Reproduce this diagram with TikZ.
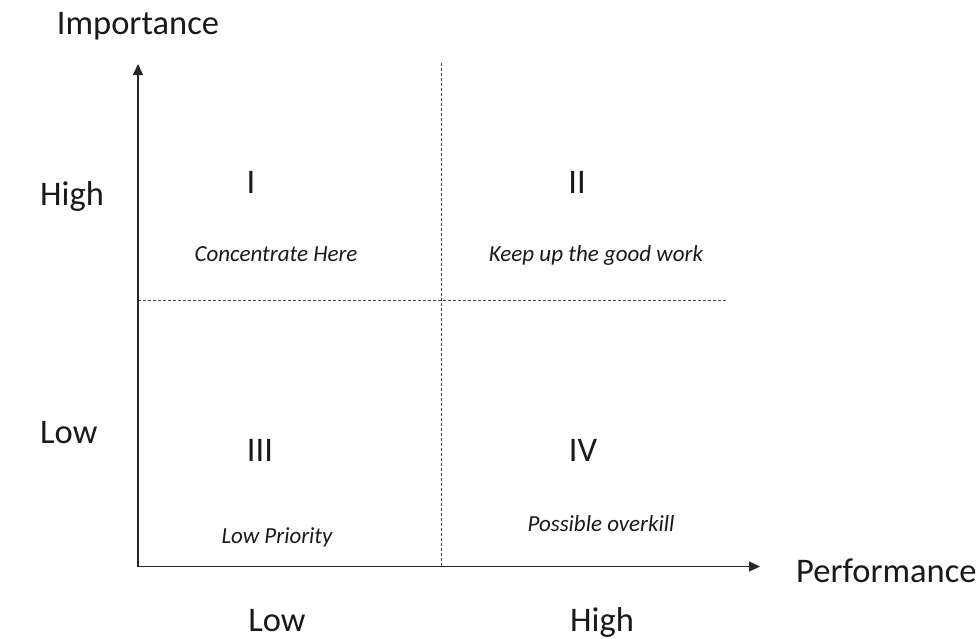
\documentclass[tikz,border=0pt]{standalone}
\usepackage{fontspec}
\setmainfont{Carlito}
\usetikzlibrary{arrows.meta}
\begin{document}
\begin{tikzpicture}[x=1pt,y=-1pt,
  big/.style={font=\fontsize{34.5}{40}\selectfont, text=black!90, inner sep=0pt, anchor=base},
  note/.style={font=\fontsize{23}{27}\selectfont\itshape, text=black!90, inner sep=0pt, anchor=base},
  axis/.style={line width=1.2pt, draw=black!85, -{Triangle[length=11pt,width=10pt]}},
  divider/.style={line width=0.8pt, draw=black!70, dash pattern=on 3pt off 2pt}]
\useasboundingbox (0,0) rectangle (978,639);

% axes frame
\coordinate (O) at (138,566.5);
\coordinate (ytip) at (138,64);
\coordinate (xtip) at (760,566.5);
\coordinate (vtop) at (441,63);
\coordinate (vbot) at (441,566);
\coordinate (hl) at (138,300);
\coordinate (hr) at (727,300);

\draw[divider] (vtop) -- (vbot);
\draw[divider] (hl) -- (hr);
\draw[axis] (O) -- (ytip);
\draw[axis] (O) -- (xtip);

% axis titles
\node[big] (imp) at (138,35) {Importance};
\node[big, anchor=base west] (perf) at (796,582) {Performance};

% level labels
\node[big, anchor=base west] (yhigh) at (40,206) {High};
\node[big, anchor=base west] (ylow) at (40,443) {Low};
\node[big] (xlow) at (277,631) {Low};
\node[big] (xhigh) at (602,631) {High};

% quadrant numerals
\node[big] (q1) at (251,194) {I};
\node[big] (q2) at (577,194) {II};
\node[big] (q3) at (260,461) {III};
\node[big] (q4) at (583,461) {IV};

% quadrant notes
\node[note] (n1) at (276,262) {Concentrate Here};
\node[note] (n2) at (596,262) {Keep up the good work};
\node[note] (n3) at (277,543) {Low Priority};
\node[note] (n4) at (601,531) {Possible overkill};
\end{tikzpicture}
\end{document}
